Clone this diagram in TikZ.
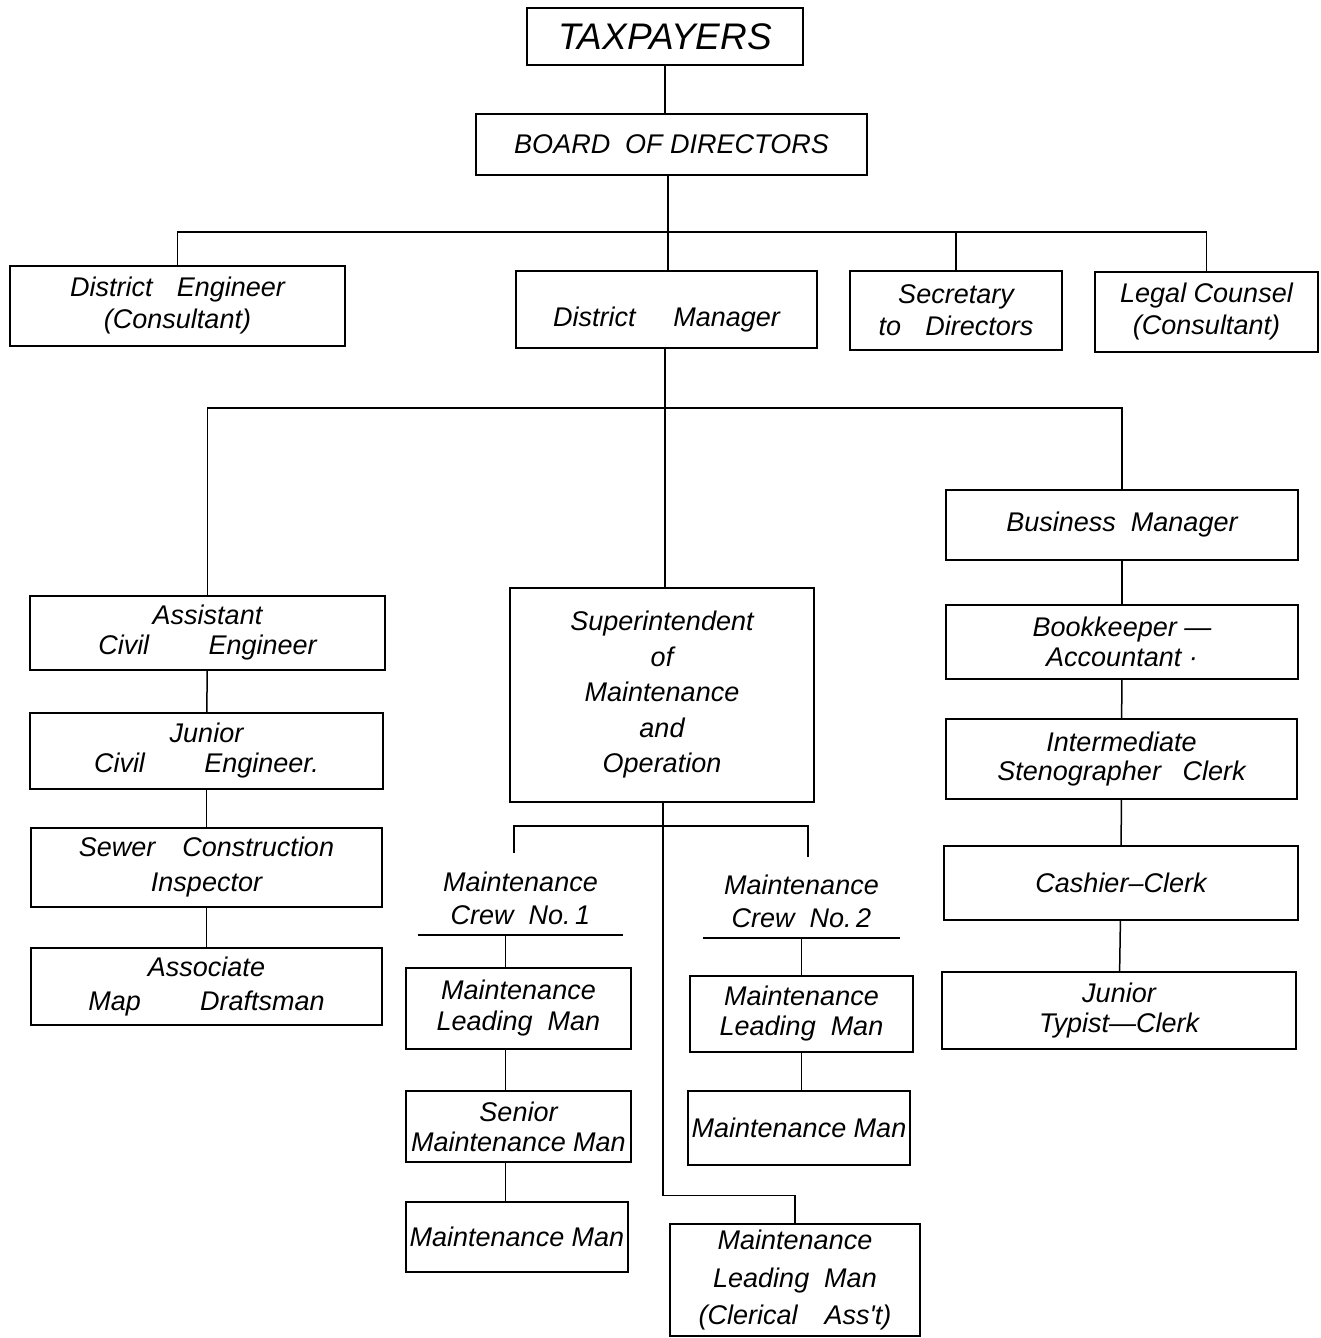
\documentclass[tikz,border=0pt]{standalone}
\usepackage{fontspec}
\newfontfamily\lettering{Liberation Sans}
\usetikzlibrary{calc}
\tikzset{
  orgbox/.style={draw, line width=1.5pt, inner sep=2pt, align=center,
    font=\lettering\itshape\fontsize{27}{32}\selectfont},
  crewtxt/.style={inner sep=2pt, align=center,
    font=\lettering\itshape\fontsize{27}{33}\selectfont},
  link/.style={line width=1.5pt},
}
\newcommand\mkbox[7][]{\node[orgbox,minimum width={#5pt-#3pt},minimum height={#6pt-#4pt},#1] (#2) at ({(#3+#5)/2},{(#4+#6)/2}) {#7};}
\begin{document}
\begin{tikzpicture}[x=1pt,y=-1pt]
\fill[white] (0,0) rectangle (1321,1338);
\useasboundingbox (0,0) rectangle (1321,1338);

% boxes
\mkbox[font=\lettering\itshape\fontsize{37}{40}\selectfont]{tax}{527}{8}{803}{65}{TAXPAYERS}
\mkbox{board}{476}{114}{867}{175}{BOARD\ \ OF\ DIRECTORS}
\mkbox{de}{10}{266}{345}{346}{District\hspace{0.9em}Engineer\\(Consultant)}
\mkbox{dm}{516}{271}{817}{348}{\raisebox{-17pt}[0pt][0pt]{District\hspace{1.4em}Manager}}
\mkbox{sec}{850}{271}{1062}{350}{Secretary\\to\hspace{0.9em}Directors}
\mkbox{legal}{1095}{272}{1318}{352}{Legal Counsel\\(Consultant)}

\mkbox[font=\lettering\itshape\fontsize{27}{30}\selectfont]{ace}{30}{596}{385}{670}{Assistant\\Civil\hspace{2.2em}Engineer}
\mkbox[font=\lettering\itshape\fontsize{27}{30}\selectfont]{jce}{30}{713}{383}{789}{Junior\\Civil\hspace{2.2em}Engineer.}
\mkbox[font=\lettering\itshape\fontsize{27}{35}\selectfont]{sci}{31}{828}{382}{907}{Sewer\hspace{1em}Construction\\Inspector}
\mkbox[font=\lettering\itshape\fontsize{27}{34}\selectfont]{amd}{31}{948}{382}{1025}{Associate\\Map\hspace{2.2em}Draftsman}

\mkbox[font=\lettering\itshape\fontsize{27}{35.5}\selectfont]{sup}{510}{588}{814}{802}{Superintendent\\of\\Maintenance\\and\\Operation}

\node[crewtxt,minimum width=205pt,minimum height=73pt] (cr1) at (520.5,898.5) {Maintenance\\Crew\ \ No.\,1};
\node[crewtxt,minimum width=197pt,minimum height=73pt] (cr2) at (801.5,901.5) {Maintenance\\Crew\ \ No.\,2};

\mkbox[font=\lettering\itshape\fontsize{27}{31}\selectfont]{ml1}{406}{968}{631}{1049}{Maintenance\\Leading\ \ Man}
\mkbox[font=\lettering\itshape\fontsize{27}{30}\selectfont]{sm}{406}{1091}{631}{1162}{Senior\\Maintenance Man}
\mkbox{mm1}{406}{1202}{628}{1272}{Maintenance Man}
\mkbox[font=\lettering\itshape\fontsize{27}{30}\selectfont]{ml2}{690}{976}{913}{1052}{Maintenance\\Leading\ \ Man}
\mkbox{mm2}{688}{1091}{910}{1165}{Maintenance Man}
\mkbox[font=\lettering\itshape\fontsize{27}{37.5}\selectfont]{clk}{670}{1224}{920}{1336}{Maintenance\\Leading\ \ Man\\(Clerical\hspace{1em}Ass't)}

\mkbox{bm}{946}{490}{1298}{560}{Business\ \ Manager}
\mkbox[font=\lettering\itshape\fontsize{27}{30}\selectfont]{bk}{946}{605}{1298}{679}{Bookkeeper\ —\\Accountant\ ·}
\mkbox[font=\lettering\itshape\fontsize{27}{29}\selectfont]{isc}{946}{719}{1297}{799}{Intermediate\\Stenographer\hspace{0.8em}Clerk}
\mkbox{cc}{944}{846}{1298}{920}{Cashier–Clerk}
\mkbox[font=\lettering\itshape\fontsize{27}{30}\selectfont]{jtc}{942}{972}{1296}{1049}{Junior\\Typist—Clerk}

% connectors: top levels
\coordinate (j1) at (668,232);
\draw[link] (tax.south) -- (tax.south |- board.north);
\draw[link] (j1 |- board.south) -- (j1);
\draw[link] (de.north) |- (j1) -| (legal.north);
\draw[link] (j1) -- (j1 |- dm.north);
\draw[link] (sec.north) -- (sec.north |- j1);

\coordinate (j2) at (665,408);
\draw[link] (j2 |- dm.south) -- (j2) -- (j2 |- sup.north);
\draw[link] (ace.north) |- (j2) -| (bm.north);

% left column
\draw[link] (ace) -- (jce);
\draw[link] (jce) -- (sci);
\draw[link] (sci) -- (amd);

% right column
\draw[link] (bm) -- (bk);
\draw[link] (bk) -- (isc);
\draw[link] (isc) -- (cc);
\draw[link] (cc) -- (jtc);

% maintenance
\coordinate (j3) at (663,826);
\coordinate (c1) at (514,853);
\coordinate (c2) at (808,857);
\draw[link] (j3 |- sup.south) -- (j3);
\draw[link] (c1) |- (j3) -| (c2);
\draw[link] (j3) |- ([yshift=28pt]clk.north) -- (clk.north);

\draw[link] (cr1.south west) -- (cr1.south east);
\draw[link] (cr2.south west) -- (cr2.south east);
\draw[link] ([xshift=-15pt]cr1.south) -- ([xshift=-15pt]cr1.south |- ml1.north);
\draw[link] (cr2.south) -- (cr2.south |- ml2.north);
\draw[link] ([xshift=-13pt]ml1.south) -- ([xshift=-13pt]ml1.south |- sm.north);
\draw[link] ([xshift=-13pt]sm.south) -- ([xshift=-13pt]sm.south |- mm1.north);
\draw[link] (ml2.south) -- (ml2.south |- mm2.north);
\end{tikzpicture}
\end{document}
